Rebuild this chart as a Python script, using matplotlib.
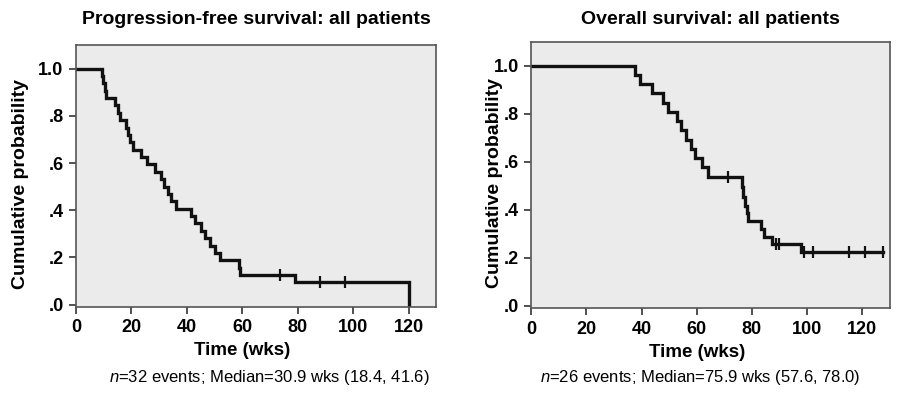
import numpy as np
import matplotlib
matplotlib.use("Agg")
import matplotlib.pyplot as plt

plt.rcParams['font.family'] = ['Liberation Sans', 'DejaVu Sans']
plt.rcParams['mathtext.fontset'] = 'custom'
plt.rcParams['mathtext.it'] = 'Liberation Sans:italic'
plt.rcParams['mathtext.rm'] = 'Liberation Sans'

# Progression-free survival (step times in weeks, survival after each step)
pfs_times = [0, 9.3, 9.8, 10.3, 10.8, 14.0, 15.2, 16.0, 18.0, 18.6, 19.5, 20.6,
             23.3, 25.6, 28.6, 30.5, 31.8, 33.2, 34.3, 36.0, 41.5, 43.0, 45.0,
             46.5, 48.5, 50.0, 52.0, 58.8, 59.3, 79.0, 120.3]
pfs_surv = [1.0, 0.969, 0.938, 0.906, 0.875, 0.844, 0.813, 0.781, 0.75, 0.719,
            0.688, 0.656, 0.625, 0.594, 0.5625, 0.531, 0.5, 0.469, 0.4375, 0.406,
            0.375, 0.344, 0.3125, 0.281, 0.25, 0.219, 0.1875, 0.156, 0.125,
            0.094, 0.0]
pfs_censored = [73.7, 87.9, 97.1]

# Overall survival
os_times = [0, 37.7, 39.3, 43.8, 47.8, 49.7, 52.8, 54.5, 56.0, 57.8, 59.5, 62.0,
            64.0, 76.3, 76.9, 77.5, 78.1, 78.7, 83.5, 84.5, 87.3, 98.0]
os_surv = [1.0, 0.962, 0.923, 0.885, 0.846, 0.808, 0.769, 0.731, 0.692, 0.654,
           0.615, 0.577, 0.538, 0.497, 0.455, 0.414, 0.385, 0.355, 0.321, 0.287,
           0.259, 0.225]
os_censored = [71.2, 88.9, 89.7, 98.8, 102.2, 115.2, 121.1, 127.5]

titles = ["Progression-free survival: all patients", "Overall survival: all patients"]
captions = [r"$\mathit{n}$=32 events; Median=30.9 wks (18.4, 41.6)",
            r"$\mathit{n}$=26 events; Median=75.9 wks (57.6, 78.0)"]
x_ticks = [0, 20, 40, 60, 80, 100, 120]
y_ticks = [0.0, 0.2, 0.4, 0.6, 0.8, 1.0]
y_labels = [".0", ".2", ".4", ".6", ".8", "1.0"]


def surv_at(times, surv, t):
    i = np.searchsorted(times, t, side='right') - 1
    return np.asarray(surv)[i]


def km_panel(ax, times, surv, censored, end, title, pad):
    ax.set_facecolor('#ebebeb')
    ax.step(list(times) + [end], list(surv) + [surv[-1]], where='post',
            color='#111111', lw=2.4, solid_joinstyle='miter')
    ax.plot(censored, surv_at(times, surv, censored), ls='none', marker='|',
            ms=9, mew=1.6, color='#111111')
    ax.set_xlim(0, 130)
    ax.set_ylim(-0.01, 1.1)
    ax.set_xticks(x_ticks)
    ax.set_yticks(y_ticks)
    ax.set_yticklabels(y_labels)
    ax.tick_params(direction='out', length=5, width=1.2, color='#333333',
                   labelsize=13, pad=4)
    for lab in ax.get_xticklabels() + ax.get_yticklabels():
        lab.set_fontweight('bold')
    for sp in ax.spines.values():
        sp.set_color('#555555')
        sp.set_linewidth(1.2)
    ax.set_xlabel("Time (wks)", fontsize=13.5, fontweight='bold')
    ax.set_ylabel("Cumulative probability", fontsize=14, fontweight='bold')
    ax.xaxis.set_label_coords(60 / 130, -0.135)
    ax.set_title(title, fontsize=14, fontweight='bold', pad=pad)


fig = plt.figure(figsize=(9.05, 4.0), dpi=100)
ax1 = fig.add_axes([0.084, 0.2325, 0.398, 0.655])
ax2 = fig.add_axes([0.587, 0.229, 0.396, 0.667])

km_panel(ax1, pfs_times, pfs_surv, pfs_censored, 120.3, titles[0], 15)
km_panel(ax2, os_times, os_surv, os_censored, 127.5, titles[1], 13)
ax1.yaxis.set_label_coords(-0.13, 0.47)
ax2.yaxis.set_label_coords(-0.08, 0.47)

fig.text(0.298, 0.045, captions[0], ha='center', fontsize=12)
fig.text(0.774, 0.045, captions[1], ha='center', fontsize=12)

fig.savefig("out.png", dpi=100)
